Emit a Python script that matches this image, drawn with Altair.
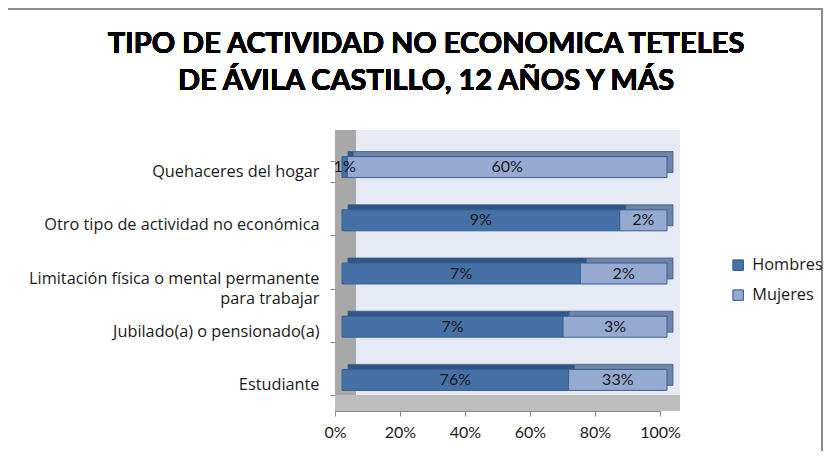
import altair as alt
import pandas as pd

categories = [
    "Quehaceres del hogar",
    "Otro tipo de actividad no económica",
    "Limitación física o mental permanente para trabajar",
    "Jubilado(a) o pensionado(a)",
    "Estudiante",
]
hombres = [1.0, 9.4, 6.6, 6.8, 76.0]
mujeres = [60.0, 1.6, 2.4, 3.2, 33.0]
series = ["Hombres", "Mujeres"]
x_ticks = [0, 0.2, 0.4, 0.6, 0.8, 1.0]
title_lines = ["TIPO DE ACTIVIDAD NO ECONOMICA TETELES", "DE ÁVILA CASTILLO, 12 AÑOS Y MÁS"]

front_colors = ["#4571A6", "#95A9D1"]
back_colors = ["#2F5686", "#6F82A8"]

rows = []
for c, h, m in zip(categories, hombres, mujeres):
    rows.append({"cat": c, "serie": series[0], "ord": 0, "value": h, "bc": back_colors[0]})
    rows.append({"cat": c, "serie": series[1], "ord": 1, "value": m, "bc": back_colors[1]})
df = pd.DataFrame(rows)

FONT = "Lato"
LFONT = "Open Sans"
DX, DY = 7, -4.5

label_expr = ("datum.value == 'Limitación física o mental permanente para trabajar' ? "
              "['Limitación física o mental permanente', 'para trabajar'] : datum.value")

y_enc = alt.Y("cat:N", sort=categories, title=None,
              scale=alt.Scale(paddingInner=0.6, paddingOuter=0.3),
              axis=alt.Axis(labelFont=LFONT, labelFontSize=16.3, labelColor="#1A1A1A",
                            labelPadding=11, ticks=True, tickBand="extent", tickSize=5,
                            tickColor="#888888", domain=True, domainColor="#888888",
                            labelLimit=400, labelExpr=label_expr, labelLineHeight=20))
x_enc = alt.X("value:Q", stack="normalize", title=None,
              scale=alt.Scale(domain=[0, 1]),
              axis=alt.Axis(values=x_ticks, format=".0%", grid=False, labelFlush=False,
                            labelFont=FONT, labelFontSize=16, labelColor="#1A1A1A",
                            domainColor="#888888", tickColor="#888888", tickSize=5,
                            labelPadding=8))

base = alt.Chart(df)

# decorative chart frame and 3-D walls
border = base.mark_rect(fill=None, stroke="#8C8C8C", strokeWidth=1.2).encode(
    x=alt.value(-330), x2=alt.value(487), y=alt.value(-136), y2=alt.value(330))
wall = base.mark_rect(color="#E6EAF4").encode(
    x=alt.value(21), x2=alt.value(345), y=alt.value(-15), y2=alt.value(250))
side = base.mark_rect(color="#A8A8A8").encode(
    x=alt.value(0), x2=alt.value(21), y=alt.value(-15), y2=alt.value(266))
floor = base.mark_rect(color="#BDBDBD").encode(
    x=alt.value(0), x2=alt.value(345), y=alt.value(250), y2=alt.value(266))

t1 = base.mark_text(text=title_lines[0], font=FONT, fontSize=29, fontWeight="bold",
                    color="#000000", align="center", baseline="alphabetic").encode(
    x=alt.value(91), y=alt.value(-92))
t2 = base.mark_text(text=title_lines[1], font=FONT, fontSize=29, fontWeight="bold",
                    color="#000000", align="center", baseline="alphabetic").encode(
    x=alt.value(91), y=alt.value(-55))

color_front = alt.Color("serie:N", scale=alt.Scale(domain=series, range=front_colors),
                        legend=alt.Legend(title=None, orient="none", legendX=395, legendY=112,
                                          symbolType="square", symbolSize=110,
                                          symbolStrokeColor="#2F5686", symbolStrokeWidth=1,
                                          labelFont=LFONT, labelFontSize=16.3, labelColor="#1A1A1A",
                                          rowPadding=13, labelOffset=6))

back = base.mark_bar(xOffset=DX + 6, yOffset=DY - 5, size=21, stroke="#3A5A85",
                     strokeWidth=0.8).encode(
    y=y_enc, x=x_enc, fill=alt.Fill("bc:N", scale=None), order=alt.Order("ord:Q"))
front = base.mark_bar(xOffset=DX, yOffset=DY, size=21, stroke="#35608F", strokeWidth=1).encode(
    y=y_enc, x=x_enc, color=color_front, order=alt.Order("ord:Q"))

labels = base.transform_joinaggregate(
    total="sum(value)", groupby=["cat"]
).transform_window(
    cum="sum(value)", groupby=["cat"], sort=[alt.SortField("ord")]
).transform_calculate(
    mid="(datum.cum - datum.value / 2) / datum.total",
    lab="format(datum.value, '.0f') + '%'"
).mark_text(font=FONT, fontSize=16, color="#1A1A1A", xOffset=DX, yOffset=DY).encode(
    y=alt.Y("cat:N", sort=categories),
    x=alt.X("mid:Q"),
    text="lab:N")

chart = alt.layer(border, wall, side, floor, t1, t2, back, front, labels).properties(
    width=325, height=266,
    padding={"left": 327, "top": 137, "right": 163, "bottom": 40},
    autosize=alt.AutoSizeParams(type="none"),
).configure_view(stroke=None)

chart.save("out.html", embed_options={"renderer": "svg", "actions": False})
